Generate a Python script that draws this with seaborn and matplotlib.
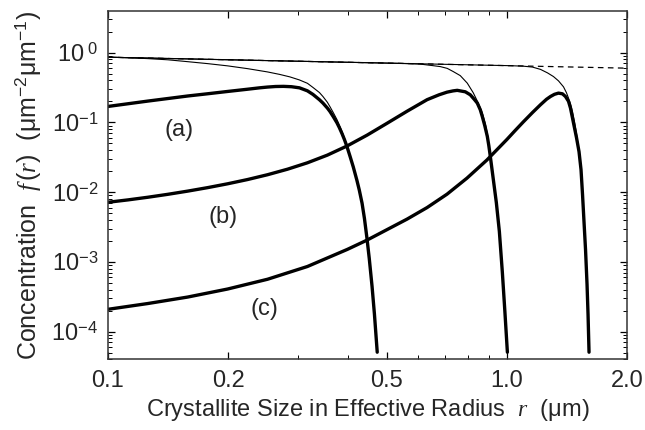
import numpy as np
import matplotlib
matplotlib.use('Agg')
import matplotlib.pyplot as plt
import matplotlib.ticker as mticker
import seaborn as sns

log_r_env = [-1.0, -0.301, 0.301]
log_f_env = [-0.066, -0.1506, -0.223]

log_r_a = [-1.0, -0.9, -0.8, -0.75, -0.7, -0.65, -0.62, -0.6, -0.58, -0.56,
           -0.54, -0.52, -0.5, -0.486, -0.47, -0.461, -0.45, -0.4435, -0.435, -0.426,
           -0.42, -0.413, -0.407, -0.401, -0.393, -0.385, -0.376, -0.37, -0.363, -0.357,
           -0.351, -0.345, -0.338, -0.332, -0.325]
log_f_a = [-0.772, -0.695, -0.622, -0.590, -0.557, -0.525, -0.505, -0.494, -0.486, -0.484,
           -0.489, -0.505, -0.548, -0.600, -0.675, -0.724, -0.795, -0.844, -0.920, -1.006,
           -1.075, -1.165, -1.250, -1.345, -1.490, -1.640, -1.830, -1.970, -2.160, -2.380,
           -2.650, -2.950, -3.350, -3.750, -4.296]

log_r_a_thin = [-1.0, -0.95, -0.9, -0.85, -0.8, -0.75, -0.7, -0.65, -0.6, -0.57,
                -0.544, -0.52, -0.5, -0.486, -0.47, -0.461, -0.45, -0.4435, -0.435, -0.426,
                -0.42, -0.413, -0.407, -0.401, -0.393, -0.385, -0.376, -0.37, -0.363, -0.357,
                -0.351, -0.345, -0.338, -0.332, -0.325]
log_f_a_thin = [-0.066, -0.073, -0.086, -0.103, -0.130, -0.158, -0.190, -0.230, -0.277, -0.312,
                 -0.348, -0.392, -0.440, -0.500, -0.572, -0.630, -0.712, -0.775, -0.862, -0.960,
                 -1.040, -1.135, -1.230, -1.330, -1.485, -1.640, -1.830, -1.970, -2.160, -2.380,
                 -2.650, -2.950, -3.350, -3.750, -4.296]

log_r_b = [-1.0, -0.95, -0.9, -0.85, -0.8, -0.75, -0.7, -0.65, -0.6, -0.55,
           -0.5, -0.45, -0.4, -0.35, -0.3, -0.25, -0.2, -0.17, -0.15, -0.135,
           -0.1244, -0.1042, -0.0917, -0.0817, -0.0741, -0.0666, -0.0616, -0.0553, -0.0490, -0.0452,
           -0.0415, -0.0339, -0.0264, -0.0188, -0.0113, -0.0050, 0.0013]
log_f_b = [-2.146, -2.112, -2.074, -2.032, -1.986, -1.936, -1.881, -1.820, -1.751, -1.672,
           -1.580, -1.470, -1.337, -1.182, -1.012, -0.840, -0.675, -0.605, -0.567, -0.549,
           -0.541, -0.562, -0.605, -0.670, -0.724, -0.820, -0.916, -1.049, -1.202, -1.335,
           -1.488, -1.821, -2.150, -2.565, -3.152, -3.710, -4.296]

log_r_b_thin = [-1.0, -0.5, -0.2676, -0.2173, -0.1847, -0.1671, -0.1495, -0.1344, -0.1168, -0.0992,
                -0.0842, -0.0716, -0.0616, -0.0540, -0.0490, -0.0452, -0.0415, -0.0339, -0.0264, -0.0188,
                -0.0113, -0.0050, 0.0013]
log_f_b_thin = [-0.066, -0.1265, -0.1546, -0.1645, -0.1874, -0.2003, -0.2260, -0.2718, -0.330, -0.438,
                 -0.5765, -0.724, -0.863, -1.020, -1.163, -1.3205, -1.488, -1.821, -2.150, -2.565,
                 -3.152, -3.710, -4.296]

log_r_c = [-1.0, -0.9, -0.8, -0.7, -0.6, -0.5, -0.4, -0.351, -0.3, -0.25,
           -0.2, -0.15, -0.1, -0.05, 0.0, 0.02, 0.0415, 0.0641, 0.0842, 0.0993,
           0.1093, 0.1193, 0.1294, 0.1394, 0.1470, 0.1545, 0.1595, 0.1671, 0.1746, 0.1809,
           0.1859, 0.1897, 0.1935, 0.1972, 0.2010, 0.2035, 0.2060]
log_f_c = [-3.681, -3.598, -3.505, -3.390, -3.250, -3.067, -2.822, -2.690, -2.537, -2.387,
           -2.222, -2.030, -1.800, -1.540, -1.246, -1.122, -0.992, -0.860, -0.748, -0.6695,
           -0.6295, -0.598, -0.5808, -0.5908, -0.6295, -0.6981, -0.7954, -1.010, -1.2203, -1.4206,
           -1.6781, -2.0358, -2.4363, -2.8226, -3.3233, -3.7525, -4.296]

log_r_c_thin = [-1.0, -0.5, 0.0088, 0.0415, 0.0641, 0.0842, 0.1018, 0.1168, 0.1294, 0.1420,
                0.1495, 0.1545, 0.1595, 0.1646, 0.1696, 0.1746, 0.1809, 0.1859, 0.1897, 0.1935,
                0.1972, 0.2010, 0.2035, 0.2060]
log_f_c_thin = [-0.066, -0.1265, -0.1874, -0.1946, -0.2074, -0.2403, -0.2904, -0.3433, -0.4049, -0.4907,
                 -0.5765, -0.6524, -0.7339, -0.8484, -0.9914, -1.1631, -1.4063, -1.6781, -2.0358, -2.4363,
                 -2.8226, -3.3233, -3.7525, -4.296]

etiquetas = ['(a)', '(b)', '(c)']
pos_etiquetas = [(0.151, 0.0784), (0.194, 0.00439), (0.247, 0.000208)]

sns.set_theme(style='ticks')
plt.rcParams['font.family'] = ['Liberation Sans', 'DejaVu Sans']
plt.rcParams['mathtext.fontset'] = 'custom'
plt.rcParams['mathtext.rm'] = 'Liberation Sans'
plt.rcParams['mathtext.it'] = 'Liberation Serif:italic'

fig = plt.figure(figsize=(6.45, 4.3), dpi=100)
ax = fig.add_axes([0.1674, 0.1644, 0.8046, 0.81])
ax.set_xscale('log')
ax.set_yscale('log')


def curva(lr, lf, lw, **kw):
    sns.lineplot(x=10 ** np.array(lr), y=10 ** np.array(lf), ax=ax, color='black',
                 lw=lw, estimator=None, sort=False, **kw)


# envolvente punteada
curva(log_r_env, log_f_env, 0.9, linestyle=(0, (4.5, 3.5)))

curva(log_r_a_thin, log_f_a_thin, 0.8)
curva(log_r_b_thin, log_f_b_thin, 0.8)
curva(log_r_c_thin, log_f_c_thin, 0.8)

curva(log_r_a, log_f_a, 2.4)
curva(log_r_b, log_f_b, 2.4)
curva(log_r_c, log_f_c, 2.4)

for txt, (xx, yy) in zip(etiquetas, pos_etiquetas):
    ax.text(xx, yy, txt, fontsize=17, ha='center', va='center')

ax.set_xlim(0.1, 2.0)
ax.set_ylim(4e-5, 3.95)

ax.xaxis.set_major_locator(mticker.FixedLocator([0.1, 0.2, 0.5, 1.0, 2.0]))
ax.xaxis.set_major_formatter(mticker.FixedFormatter(['0.1', '0.2', '0.5', '1.0', '2.0']))
ax.xaxis.set_minor_locator(mticker.LogLocator(base=10, subs=np.arange(2, 10), numticks=20))
ax.xaxis.set_minor_formatter(mticker.NullFormatter())

ax.yaxis.set_major_locator(mticker.FixedLocator([1, 1e-1, 1e-2, 1e-3, 1e-4]))
ax.yaxis.set_major_formatter(mticker.FixedFormatter(
    [r'$10^{\ 0}$', r'$10^{-1}$', r'$10^{-2}$', r'$10^{-3}$', r'$10^{-4}$']))
ax.yaxis.set_minor_locator(mticker.LogLocator(base=10, subs=np.arange(2, 10), numticks=20))
ax.yaxis.set_minor_formatter(mticker.NullFormatter())

ax.tick_params(axis='both', which='both', direction='in', top=True, right=True, color='black')
ax.tick_params(axis='both', which='major', length=5, width=0.9)
ax.tick_params(axis='both', which='minor', length=3, width=0.7)
ax.tick_params(axis='x', which='major', labelsize=17, pad=8)
ax.tick_params(axis='y', which='major', labelsize=17, pad=7)
for s in ax.spines.values():
    s.set_color('#333333')
    s.set_linewidth(1.1)

ax.set_xlabel(r'Crystallite Size in Effective Radius  $r$  (μm)', fontsize=17, labelpad=3)
ax.set_ylabel(r'Concentration  $f\,(r)$  (μm$^{-2}$μm$^{-1}$)', fontsize=18, labelpad=6)

plt.savefig('out.png', dpi=100)
plt.close()
